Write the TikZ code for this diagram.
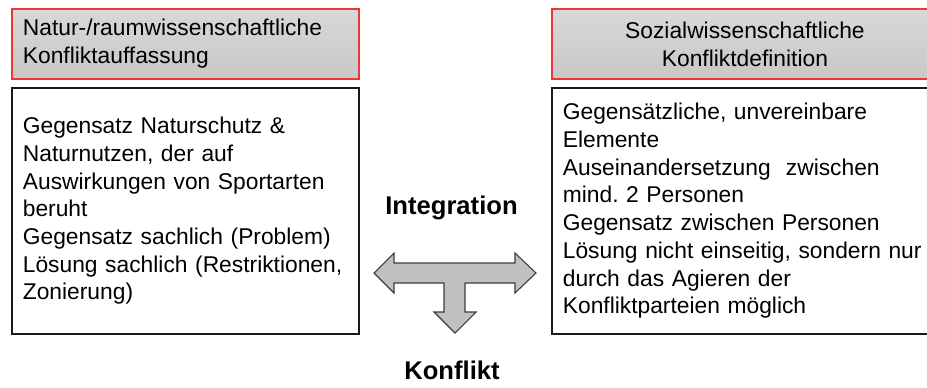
\documentclass[tikz,border=0pt]{standalone}
\usepackage{fontspec}
\setmainfont{Liberation Sans}
\usepackage{tikz}
\frenchspacing
\definecolor{hdrtop}{HTML}{D8D8D8}
\definecolor{hdrbot}{HTML}{C8C8C8}
\definecolor{hdrred}{HTML}{F03535}
\definecolor{boxline}{HTML}{1A1A1A}
\definecolor{arrfill}{HTML}{C0C0C0}
\definecolor{arrline}{HTML}{3C3C3C}
\tikzset{
  hdrbox/.style={draw=hdrred, line width=1.4pt, top color=hdrtop, bottom color=hdrbot,
    anchor=north west, minimum height=52.5pt, inner xsep=8.25pt,
    font=\fontsize{17.1}{21}\selectfont},
  bodybox/.style={draw=boxline, fill=white, line width=1.3pt, anchor=north west,
    minimum height=184.5pt, inner xsep=8.25pt, align=left,
    font=\fontsize{17.1}{20.8}\selectfont},
  tarrow/.style={draw=arrline, fill=arrfill, line width=0.8pt, line join=miter},
  lbl/.style={anchor=base, font=\bfseries\fontsize{19.2}{23}\selectfont}
}
\begin{document}
\begin{tikzpicture}[x=0.75pt,y=-0.75pt]
  \useasboundingbox (0,0) rectangle (927,387);
  \clip (0,0) rectangle (927,387);

  \node[hdrbox, text width=243.75pt, align=left] (hl) at (11,8)
    {Natur-/raumwissenschaftliche\\Konfliktauffassung};
  \node[hdrbox, text width=273pt, align=center] (hr) at (551,8)
    {Sozialwissenschaftliche\\Konfliktdefinition};

  \node[bodybox, text width=243.75pt] (bl) at (11,87)
    {Gegensatz Naturschutz \&\\Naturnutzen, der auf\\Auswirkungen von Sportarten\\beruht\\
     Gegensatz sachlich (Problem)\\Lösung sachlich (Restriktionen,\\Zonierung)};
  \node[bodybox, text width=273pt] (br) at (551,87)
    {Gegensätzliche, unvereinbare\\Elemente\\Auseinandersetzung~ zwischen\\mind. 2 Personen\\
     Gegensatz zwischen Personen\\Lösung nicht einseitig, sondern nur\\durch das Agieren der\\
     Konfliktparteien möglich};

  \draw[tarrow] (374,273) -- (394,253) -- (394,263) -- (515,263) -- (515,253) -- (536,273)
    -- (515,293) -- (515,283) -- (465,283) -- (465,312) -- (476,312) -- (455,333)
    -- (434,312) -- (444,312) -- (444,283) -- (394,283) -- (394,293) -- cycle;

  \node[lbl] (integ) at (451.5,214) {Integration};
  \node[lbl] (konf) at (452,379) {Konflikt};
\end{tikzpicture}
\end{document}
